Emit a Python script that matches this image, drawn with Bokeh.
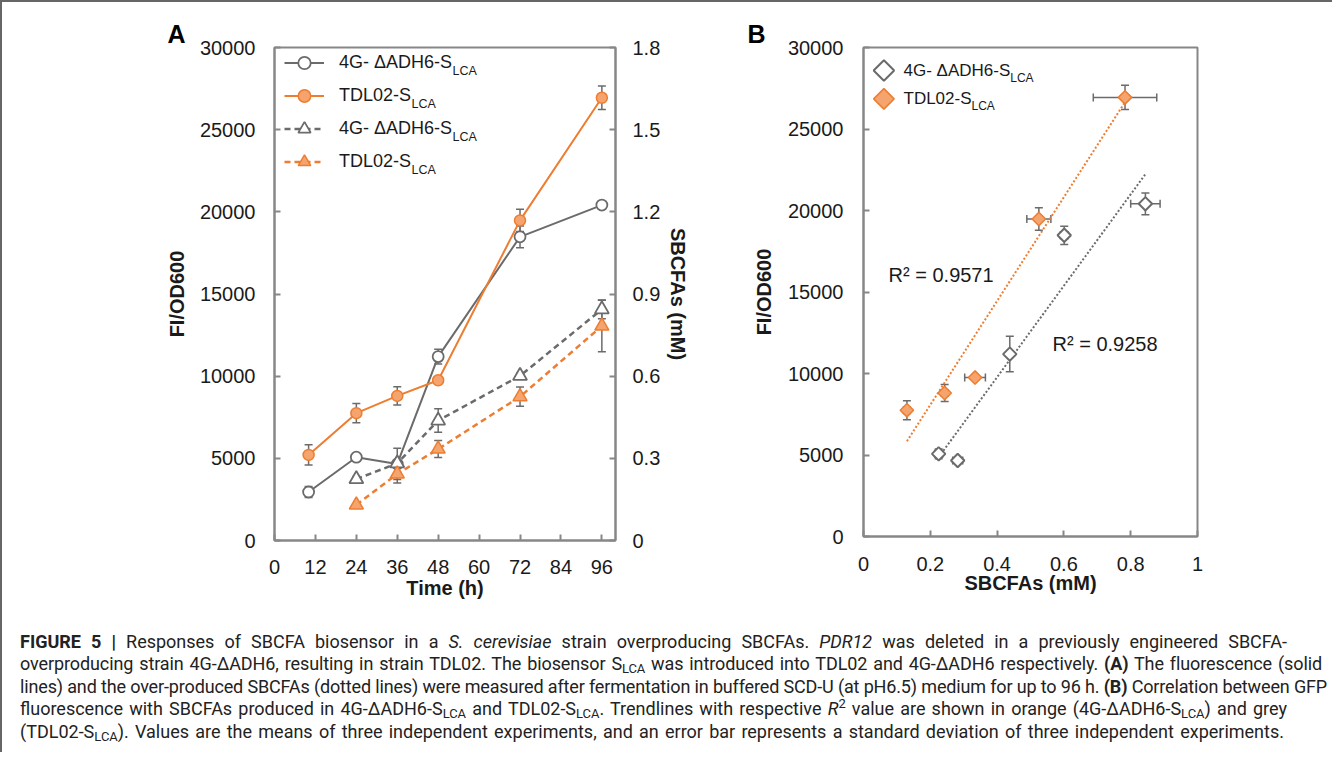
import numpy as np
from bokeh.plotting import figure
from bokeh.models import (ColumnDataSource, Range1d, LinearAxis, Whisker, TeeHead,
                          Legend, LegendItem, Label, Div, FixedTicker)
from bokeh.layouts import row, column
from bokeh.embed import file_html
from bokeh.resources import INLINE

# ---------------- data ----------------
# Panel A : fluorescence (left axis) and SBCFAs (right axis) vs time
time_fi = [10, 24, 36, 48, 72, 96]
fi_4g = [2950, 5070, 4660, 11190, 18480, 20410]
fi_4g_err = [340, 150, 950, 450, 660, 0]
fi_tdl = [5210, 7750, 8800, 9750, 19480, 26940]
fi_tdl_err = [610, 580, 560, 150, 670, 720]

time_sb = [24, 36, 48, 72, 96]
sb_4g = [0.224, 0.282, 0.438, 0.601, 0.844]
sb_4g_err = [0.01, 0.01, 0.043, 0.01, 0.034]
sb_tdl = [0.130, 0.243, 0.334, 0.525, 0.783]
sb_tdl_err = [0.0, 0.033, 0.031, 0.035, 0.094]

# Panel B : fluorescence vs SBCFAs
b_4g_x = [0.225, 0.282, 0.438, 0.601, 0.844]
b_4g_xerr = [0.012, 0.015, 0.008, 0.012, 0.044]
b_4g_y = [5070, 4660, 11190, 18480, 20410]
b_4g_yerr = [300, 150, 1090, 560, 665]
b_tdl_x = [0.130, 0.243, 0.334, 0.525, 0.783]
b_tdl_xerr = [0.010, 0.010, 0.031, 0.036, 0.095]
b_tdl_y = [7750, 8800, 9750, 19480, 26940]
b_tdl_yerr = [585, 520, 150, 690, 750]
r2_texts = ["R\u00b2 = 0.9571", "R\u00b2 = 0.9258"]

# tick labels
a_xticks = [0, 12, 24, 36, 48, 60, 72, 84, 96]
fi_ticks = [0, 5000, 10000, 15000, 20000, 25000, 30000]
sb_ticks = [0, 0.3, 0.6, 0.9, 1.2, 1.5, 1.8]
b_xticks = [0, 0.2, 0.4, 0.6, 0.8, 1]

legend_A = ["4G- \u0394ADH6-S", "TDL02-S", "4G- \u0394ADH6-S", "TDL02-S"]
legend_B = ["4G- \u0394ADH6-S", "TDL02-S"]
SUB = "LCA"

# ---------------- styles ----------------
GRAY = "#6b6b6b"
AXIS = "#878787"
ORANGE = "#ED7D31"
ORANGE_FILL = "#F4A46C"
TXT = "#1a1a1a"
FONT = "Liberation Sans"

# Arial / Liberation Sans advance widths (1/1000 em) for legend text
AW = {'4': 556, 'G': 778, '-': 333, ' ': 278, '\u0394': 668, 'A': 667, 'D': 722,
      'H': 722, '6': 556, 'S': 667, 'T': 611, 'L': 556, '0': 556, '2': 556}


def text_w(s, px):
    return sum(AW.get(c, 556) for c in s) / 1000.0 * px


def style_axis(ax, lab_standoff, axlab_standoff):
    ax.axis_line_color = AXIS
    ax.axis_line_width = 2
    ax.major_tick_line_color = AXIS
    ax.major_tick_line_width = 2
    ax.major_tick_in = 6
    ax.major_tick_out = 0
    ax.minor_tick_line_color = None
    ax.major_label_text_font = FONT
    ax.major_label_text_font_size = "20px"
    ax.major_label_text_color = TXT
    ax.major_label_standoff = lab_standoff
    ax.axis_label_text_font = FONT
    ax.axis_label_text_font_style = "bold"
    ax.axis_label_text_font_size = "20px"
    ax.axis_label_text_color = TXT
    ax.axis_label_standoff = axlab_standoff


def whisker(p, base, center, err, color, dim="height", yr="default"):
    src = ColumnDataSource(dict(base=base,
                                lower=[c - e for c, e in zip(center, err)],
                                upper=[c + e for c, e in zip(center, err)]))
    w = Whisker(source=src, base="base", lower="lower", upper="upper", dimension=dim,
                line_color=color, line_width=1.5, level="underlay", y_range_name=yr,
                upper_head=TeeHead(size=8, line_color=color, line_width=1.5),
                lower_head=TeeHead(size=8, line_color=color, line_width=1.5))
    p.add_layout(w)


def panel_letter(p, letter, offset):
    p.title.text = letter
    p.title.align = "left"
    p.title.offset = offset
    p.title.standoff = 0
    p.title.text_font = FONT
    p.title.text_font_size = "25px"
    p.title.text_font_style = "bold"
    p.title.text_color = "black"


# ---------------- Panel A ----------------
FW_A, FH_A = 341, 493
pA = figure(frame_width=FW_A, frame_height=FH_A,
            x_range=Range1d(0, 100), y_range=Range1d(0, 30000),
            min_border_left=272, min_border_right=91, min_border_top=41, min_border_bottom=66,
            output_backend="svg", toolbar_location=None)
pA.extra_y_ranges = {"sb": Range1d(0, 1.8)}
pA.add_layout(LinearAxis(y_range_name="sb"), "right")
pA.xgrid.visible = False
pA.ygrid.visible = False
pA.outline_line_color = AXIS
pA.outline_line_width = 2
panel_letter(pA, "A", -107)

axb, axl, axr = pA.below[0], pA.left[0], pA.right[0]
style_axis(axb, 19, 0)
style_axis(axl, 19, 9)
style_axis(axr, 17, 4)
axb.ticker = FixedTicker(ticks=a_xticks)
axl.ticker = FixedTicker(ticks=fi_ticks)
axr.ticker = FixedTicker(ticks=sb_ticks)
axr.major_label_overrides = {0: "0"}
axb.axis_label = "Time (h)"
axl.axis_label = "FI/OD600"
axr.axis_label = "SBCFAs (mM)"

whisker(pA, time_fi, fi_4g, fi_4g_err, GRAY)
whisker(pA, time_fi, fi_tdl, fi_tdl_err, GRAY)
whisker(pA, time_sb, sb_4g, sb_4g_err, GRAY, yr="sb")
whisker(pA, time_sb, sb_tdl, sb_tdl_err, GRAY, yr="sb")

l1 = pA.line(time_fi, fi_4g, line_color=GRAY, line_width=2)
s1 = pA.scatter(time_fi, fi_4g, marker="circle", size=11, fill_color="white",
                line_color=GRAY, line_width=1.8)
l2 = pA.line(time_fi, fi_tdl, line_color=ORANGE, line_width=2)
s2 = pA.scatter(time_fi, fi_tdl, marker="circle", size=11, fill_color=ORANGE_FILL,
                line_color=ORANGE, line_width=1.5)
l3 = pA.line(time_sb, sb_4g, y_range_name="sb", line_color=GRAY, line_width=2.5, line_dash="6 4")
s3 = pA.scatter(time_sb, sb_4g, y_range_name="sb", marker="triangle", size=14,
                fill_color="white", line_color=GRAY, line_width=1.8)
l4 = pA.line(time_sb, sb_tdl, y_range_name="sb", line_color=ORANGE, line_width=2.5, line_dash="6 4")
s4 = pA.scatter(time_sb, sb_tdl, y_range_name="sb", marker="triangle", size=14,
                fill_color=ORANGE_FILL, line_color=ORANGE, line_width=1.5)

GA_W, GA_H, GA_SP, GA_ST, GA_X = 40, 31, 2, 15, 10
legA_h = 4 * GA_H + 3 * GA_SP
legA = Legend(items=[LegendItem(label=legend_A[i], renderers=r) for i, r in
                     enumerate([[l1, s1], [l2, s2], [l3, s3], [l4, s4]])],
              location=(GA_X, FH_A - legA_h), padding=0, margin=0, spacing=GA_SP,
              glyph_width=GA_W, glyph_height=GA_H, label_height=GA_H, label_standoff=GA_ST,
              label_text_font=FONT, label_text_font_size="18px", label_text_color=TXT,
              border_line_color=None, background_fill_alpha=0)
pA.add_layout(legA)
for i, lab in enumerate(legend_A):
    cy = FH_A - (i * (GA_H + GA_SP) + GA_H / 2)
    pA.add_layout(Label(x=GA_X + GA_W + GA_ST + text_w(lab, 18), y=cy - 7.5,
                        x_units="screen", y_units="screen", text=SUB,
                        text_font=FONT, text_font_size="12.5px", text_color=TXT,
                        text_baseline="alphabetic", text_align="left"))

# ---------------- Panel B ----------------
FW_B, FH_B = 334, 489
XR_B, YR_B = (0, 1), (0, 30000)
pB = figure(frame_width=FW_B, frame_height=FH_B,
            x_range=Range1d(*XR_B), y_range=Range1d(*YR_B),
            min_border_left=157, min_border_right=40, min_border_top=45, min_border_bottom=66,
            output_backend="svg", toolbar_location=None)
pB.xgrid.visible = False
pB.ygrid.visible = False
pB.outline_line_color = AXIS
pB.outline_line_width = 2
panel_letter(pB, "B", -116)
bxb, bxl = pB.below[0], pB.left[0]
style_axis(bxb, 20, -2)
style_axis(bxl, 20, 10)
bxb.ticker = FixedTicker(ticks=b_xticks)
bxb.major_label_overrides = {0: "0", 1: "1"}
bxl.ticker = FixedTicker(ticks=fi_ticks)
bxb.axis_label = "SBCFAs (mM)"
bxl.axis_label = "FI/OD600"

# trend lines (least squares on the plotted points)
for xs, ys, col in [(b_tdl_x, b_tdl_y, ORANGE), (b_4g_x, b_4g_y, GRAY)]:
    k, b0 = np.polyfit(xs, ys, 1)
    xe = [min(xs), max(xs)]
    pB.line(xe, [k * v + b0 for v in xe], line_color=col, line_width=2, line_dash="2 2")

whisker(pB, b_4g_x, b_4g_y, b_4g_yerr, GRAY)
whisker(pB, b_4g_y, b_4g_x, b_4g_xerr, GRAY, dim="width")
whisker(pB, b_tdl_x, b_tdl_y, b_tdl_yerr, GRAY)
whisker(pB, b_tdl_y, b_tdl_x, b_tdl_xerr, GRAY, dim="width")

DIAMOND = dict(marker="square", angle=np.pi / 4)
STY_G = dict(fill_color="white", line_color=GRAY, line_width=2)
STY_O = dict(fill_color=ORANGE_FILL, line_color=ORANGE, line_width=1.5)
pB.scatter(b_4g_x, b_4g_y, size=9.5, **DIAMOND, **STY_G)
pB.scatter(b_tdl_x, b_tdl_y, size=9.5, **DIAMOND, **STY_O)

# legend of panel B (keys placed by pixel offsets inside the frame)
LB_X, LB_TOP, LB_STEP, LB_TXT = 20.4, 23, 28.4, 40


def px_to_data(px, py_top):
    return (XR_B[0] + px / FW_B * (XR_B[1] - XR_B[0]),
            YR_B[1] - py_top / FH_B * (YR_B[1] - YR_B[0]))


for i, (lab, sty) in enumerate(zip(legend_B, [STY_G, STY_O])):
    top = LB_TOP + i * LB_STEP
    kx, ky = px_to_data(LB_X, top)
    pB.scatter([kx], [ky], size=14.5, **DIAMOND, **sty)
    pB.add_layout(Label(x=LB_TXT, y=FH_B - top, x_units="screen", y_units="screen", text=lab,
                        text_font=FONT, text_font_size="17px", text_color=TXT,
                        text_baseline="middle", text_align="left"))
    pB.add_layout(Label(x=LB_TXT + text_w(lab, 17), y=FH_B - top - 7,
                        x_units="screen", y_units="screen", text=SUB,
                        text_font=FONT, text_font_size="12px", text_color=TXT,
                        text_baseline="alphabetic", text_align="left"))

pB.add_layout(Label(x=0.075, y=16060, text=r2_texts[0], text_font=FONT, text_font_size="20px",
                    text_color=TXT, text_baseline="middle", text_align="left"))
pB.add_layout(Label(x=0.566, y=11830, text=r2_texts[1], text_font=FONT, text_font_size="20px",
                    text_color=TXT, text_baseline="middle", text_align="left"))

# ---------------- caption ----------------
S = '<span style="font-size:72%;position:relative;top:0.25em;">LCA</span>'
cap_lines = [
    '<b>FIGURE 5 |</b> Responses of SBCFA biosensor in a <i>S. cerevisiae</i> strain overproducing SBCFAs. '
    '<i>PDR12</i> was deleted in a previously engineered SBCFA-',
    'overproducing strain 4G-\u0394ADH6, resulting in strain TDL02. The biosensor S' + S +
    ' was introduced into TDL02 and 4G-\u0394ADH6 respectively. <b>(A)</b> The fluorescence (solid',
    'lines) and the over-produced SBCFAs (dotted lines) were measured after fermentation in buffered '
    'SCD-U (at pH6.5) medium for up to 96 h. <b>(B)</b> Correlation between GFP',
    'fluorescence with SBCFAs produced in 4G-\u0394ADH6-S' + S + ' and TDL02-S' + S +
    '. Trendlines with respective <i>R</i><span style="font-size:72%;position:relative;top:-0.5em;">2</span>'
    ' value are shown in orange (4G-\u0394ADH6-S' + S + ') and grey',
    '(TDL02-S' + S + '). Values are the means of three independent experiments, and an error bar '
    'represents a standard deviation of three independent experiments.',
]
cap_widths = [1267, 1302, 1307, 1267, 1264]
cap_spacing = ["0px", "-0.1px", "-0.15px", "0px", "0px"]
html = ('<div style="font-family:\'Liberation Sans Narrow\',\'Roboto\',sans-serif;font-size:18px;'
        'line-height:21.5px;color:#222;padding-left:13px;padding-top:24px;">' +
        ''.join('<div style="width:%dpx;white-space:nowrap;text-align:justify;'
                'text-align-last:justify;letter-spacing:%s;">%s</div>' % (w, ls, ln)
                for ln, w, ls in zip(cap_lines, cap_widths, cap_spacing)) + '</div>')
cap = Div(text=html, width=1320, height=140)

layout = column(row(pA, pB), cap,
                styles={"border-top": "2px solid #666", "border-left": "2px solid #666"})

open("out.html", "w").write(file_html(layout, INLINE))
